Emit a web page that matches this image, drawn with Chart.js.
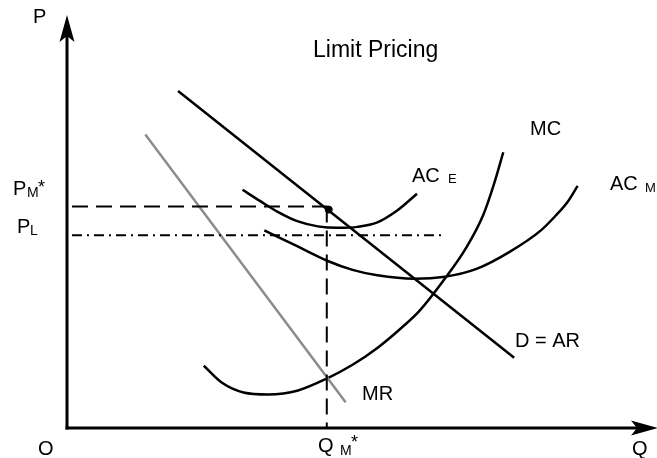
<!DOCTYPE html>
<html>
<head>
<meta charset="utf-8">
<title>Limit Pricing</title>
<script src="https://cdn.jsdelivr.net/npm/chart.js@4"></script>
<style>
  html, body { margin: 0; padding: 0; background: #fff; }
  #wrap { width: 657px; height: 458px; }
</style>
</head>
<body>
<div id="wrap"><canvas id="limitChart" width="657" height="458"></canvas></div>
<script>
// ── Limit pricing diagram ─────────────────────────────────────────────────────
// Q on the x axis, P on the y axis (same units on both: 0..59 x 0..42.8).

const Q_MAX = 59;
const P_MAX = 42.8;

// Demand (D = AR) and marginal revenue: straight lines, two points each
const demandQ = [11.2, 45.1];
const demandP = [34.1, 7.1];
const mrQ     = [7.9, 28.1];
const mrP     = [29.7, 2.6];

// Marginal cost of the incumbent
const mcQ = [13.8, 15.6, 17.8, 20.3, 23.3, 26.2, 28.8, 31.3, 33.8, 35.5, 38.1, 40.3, 42.0, 43.1, 44.0];
const mcP = [ 6.3,  4.6,  3.6,  3.4,  3.8,  5.0,  6.4,  8.1, 10.2, 11.8, 15.1, 18.3, 21.6, 24.8, 27.9];

// Average cost of the entrant (AC E)
const aceQ = [17.7, 19.5,  21.3, 23.3, 25.3, 27.3,  29.3,  31.3, 33.3, 35.3];
const aceP = [24.1, 22.95, 21.85, 20.9, 20.4, 20.25, 20.35, 20.8, 22.0, 23.7];

// Average cost of the monopolist (AC M)
const acmQ = [19.9, 23.0, 26.3, 28.8, 31.3, 35.0, 38.1, 41.3, 44.6, 47.8, 49.3, 50.5, 51.5];
const acmP = [20.0, 18.5, 16.9, 16.0, 15.45, 15.1, 15.3, 16.1, 17.8, 20.0, 21.5, 22.9, 24.5];

// Monopoly point and price levels
const qMonopoly = 26.2;
const pMonopoly = 22.4;
const pLimit    = 19.5;
const pmLineQ   = [0.5, 26.3];
const plLineQ   = [0.5, 38.0];
const dotQ      = [26.4];
const dotP      = [22.1];

const pts = (xs, ys) => xs.map((x, i) => ({ x, y: ys[i] }));

function curve(label, xs, ys, color, extra) {
  return Object.assign({
    label,
    data: pts(xs, ys),
    showLine: true,
    borderColor: color,
    backgroundColor: color,
    borderWidth: 2.5,
    pointRadius: 0,
    pointHoverRadius: 0,
    cubicInterpolationMode: 'monotone',
  }, extra || {});
}

// ── Axes with arrow heads + all the text labels ─────────────────────────────
function arrowHead(ctx, x, y, dx, dy) {
  const len = 27, half = 7.5, notch = 21;
  const px = -dy, py = dx;
  ctx.beginPath();
  ctx.moveTo(x, y);
  ctx.lineTo(x - dx * len + px * half, y - dy * len + py * half);
  ctx.lineTo(x - dx * notch, y - dy * notch);
  ctx.lineTo(x - dx * len - px * half, y - dy * len - py * half);
  ctx.closePath();
  ctx.fill();
}

function text(ctx, str, x, y, size) {
  ctx.font = size + 'px "Liberation Sans", Arial, sans-serif';
  ctx.fillText(str, x, y);
}

const diagramPlugin = {
  id: 'diagram',
  afterDatasetsDraw(chart) {
    const { ctx, scales: { x, y } } = chart;
    const x0 = x.getPixelForValue(0);
    const y0 = y.getPixelForValue(0);

    ctx.save();
    ctx.strokeStyle = '#000';
    ctx.fillStyle = '#000';
    ctx.lineWidth = 3;
    ctx.lineCap = 'butt';

    // P axis
    ctx.beginPath();
    ctx.moveTo(x0, y0 + 1.5);
    ctx.lineTo(x0, 36);
    ctx.stroke();
    arrowHead(ctx, x0, 15, 0, -1);

    // Q axis
    ctx.beginPath();
    ctx.moveTo(x0 - 1.5, y0);
    ctx.lineTo(640, y0);
    ctx.stroke();
    arrowHead(ctx, 658, y0, 1, 0);

    ctx.textBaseline = 'alphabetic';
    text(ctx, 'Limit Pricing', 313, 57, 23);
    text(ctx, 'P', 33, 23, 20);
    text(ctx, 'O', 38, 455, 20);
    text(ctx, 'Q', 632, 455, 20);

    // price labels on the P axis
    text(ctx, 'P', 13, 195, 20);
    text(ctx, 'M', 27, 197, 14);
    text(ctx, '*', 38, 193, 18);
    text(ctx, 'P', 17, 233, 20);
    text(ctx, 'L', 30, 235, 14);

    // Q M* under the axis
    text(ctx, 'Q', 318, 452, 20);
    text(ctx, 'M', 340, 455, 14);
    text(ctx, '*', 351, 448, 18);

    // curve labels
    text(ctx, 'AC', 412, 182, 20);
    text(ctx, 'E', 448, 183, 13);
    text(ctx, 'AC', 610, 190, 20);
    text(ctx, 'M', 645, 192, 13);
    text(ctx, 'MC', 530, 135, 20);
    text(ctx, 'D = AR', 515, 347, 20);
    text(ctx, 'MR', 362, 400, 20);

    ctx.restore();
  },
};

// ── Chart ───────────────────────────────────────────────────────────────────
new Chart(document.getElementById('limitChart'), {
  type: 'scatter',
  data: {
    datasets: [
      curve('P M*', pmLineQ, [pMonopoly, pMonopoly], '#000', { borderWidth: 2, borderDash: [16, 8], cubicInterpolationMode: 'default' }),
      curve('P L',  plLineQ, [pLimit, pLimit],       '#000', { borderWidth: 2, borderDash: [10, 5, 2, 5], cubicInterpolationMode: 'default' }),
      curve('Q M*', [qMonopoly, qMonopoly], [pMonopoly, 0], '#000', { borderWidth: 2, borderDash: [16, 8], cubicInterpolationMode: 'default' }),
      curve('MR',     mrQ,     mrP,     '#8c8c8c'),
      curve('D = AR', demandQ, demandP, '#000'),
      curve('MC',     mcQ,     mcP,     '#000'),
      curve('AC E',   aceQ,    aceP,    '#000'),
      curve('AC M',   acmQ,    acmP,    '#000'),
      {
        label: 'Monopoly point',
        data: pts(dotQ, dotP),
        pointRadius: 3.5,
        pointBackgroundColor: '#000',
        pointBorderColor: '#000',
      },
    ],
  },
  options: {
    responsive: false,
    animation: false,
    devicePixelRatio: 1,
    layout: { padding: { left: 67, right: 0, top: 0, bottom: 30 } },
    plugins: { legend: { display: false }, tooltip: { enabled: false } },
    events: [],
    scales: {
      x: { type: 'linear', min: 0, max: Q_MAX, display: false },
      y: { type: 'linear', min: 0, max: P_MAX, display: false },
    },
  },
  plugins: [diagramPlugin],
});
</script>
</body>
</html>
